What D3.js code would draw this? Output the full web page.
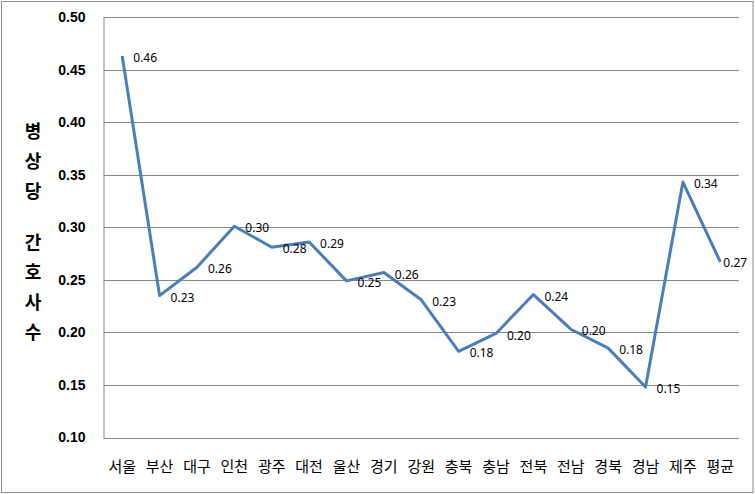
<!DOCTYPE html>
<html>
<head>
<meta charset="utf-8">
<script src="https://cdn.jsdelivr.net/npm/d3@7"></script>
<style>
  body { margin: 0; background: #fff; }
  svg { display: block; }
</style>
</head>
<body>
<script>
// regions and values
var regions = ['서울', '부산', '대구', '인천', '광주', '대전', '울산', '경기', '강원',
  '충북', '충남', '전북', '전남', '경북', '경남', '제주', '평균'];
var nurses = [0.463, 0.235, 0.262, 0.301, 0.281, 0.286, 0.249, 0.257, 0.231,
  0.182, 0.199, 0.236, 0.203, 0.185, 0.148, 0.343, 0.267];
var yTicks = [0.10, 0.15, 0.20, 0.25, 0.30, 0.35, 0.40, 0.45, 0.50];
var titleChars = ['병', '상', '당', ' ', '간', '호', '사', '수'];

var width = 755, height = 494;
var margin = {top: 17, right: 16, bottom: 56.5, left: 103.5};

var svg = d3.select('body').append('svg')
  .attr('width', width)
  .attr('height', height);

// outer frame
svg.append('rect')
  .attr('x', 1.5).attr('y', 1.5)
  .attr('width', width - 3.5).attr('height', height - 3)
  .attr('fill', 'none')
  .attr('stroke', '#8c8c8c');

var x = d3.scaleBand()
  .domain(regions)
  .range([margin.left, width - margin.right]);

var y = d3.scaleLinear()
  .domain([0.10, 0.50])
  .range([height - margin.bottom, margin.top]);

// gridlines
svg.append('g')
  .selectAll('line')
  .data(yTicks)
  .enter().append('line')
  .attr('x1', margin.left)
  .attr('x2', width - margin.right)
  .attr('y1', function(d) { return Math.round(y(d)) + 0.5; })
  .attr('y2', function(d) { return Math.round(y(d)) + 0.5; })
  .attr('stroke', '#868686');

// left axis
var yAxis = svg.append('g')
  .attr('transform', 'translate(' + margin.left + ',0)')
  .call(d3.axisLeft(y).tickValues(yTicks).tickFormat(d3.format('.2f')).tickSize(0).tickPadding(18));
yAxis.select('.domain').attr('stroke', '#868686');
yAxis.selectAll('text')
  .attr('font-family', '"Liberation Sans", Arial, sans-serif')
  .attr('font-weight', 'bold')
  .attr('font-size', '14px')
  .attr('fill', '#000');

// category labels
svg.append('g')
  .selectAll('text')
  .data(regions)
  .enter().append('text')
  .attr('x', function(d) { return x(d) + x.bandwidth() / 2; })
  .attr('y', 467)
  .attr('dy', '0.35em')
  .attr('text-anchor', 'middle')
  .attr('font-family', '"Noto Sans CJK KR", sans-serif')
  .attr('font-size', '15px')
  .attr('fill', '#000')
  .text(function(d) { return d; });

// vertical stacked title
var ty = 132;
titleChars.forEach(function(c) {
  if (c === ' ') { ty += 21; return; }
  svg.append('text')
    .attr('x', 33)
    .attr('y', ty)
    .attr('dy', '0.35em')
    .attr('text-anchor', 'middle')
    .attr('font-family', '"Noto Sans CJK KR", sans-serif')
    .attr('font-weight', 'bold')
    .attr('font-size', '18px')
    .attr('fill', '#000')
    .text(c);
  ty += 30;
});

// line
var line = d3.line()
  .x(function(d, i) { return x(regions[i]) + x.bandwidth() / 2; })
  .y(function(d) { return y(d); });

svg.append('path')
  .datum(nurses)
  .attr('d', line)
  .attr('fill', 'none')
  .attr('stroke', '#4a7ebb')
  .attr('stroke-width', 3)
  .attr('stroke-linejoin', 'round');

// value labels (last one pulled in so it fits the frame)
var last = nurses.length - 1;
svg.append('g')
  .selectAll('text')
  .data(nurses)
  .enter().append('text')
  .attr('x', function(d, i) { return x(regions[i]) + x.bandwidth() / 2 + (i === last ? 3 : 11); })
  .attr('y', function(d, i) { return y(d) + (i === last ? 1 : 2); })
  .attr('dy', '0.35em')
  .attr('font-family', '"Noto Sans", sans-serif')
  .attr('font-size', '12px')
  .attr('fill', '#000')
  .text(function(d) { return d3.format('.2f')(d); });
</script>
</body>
</html>
